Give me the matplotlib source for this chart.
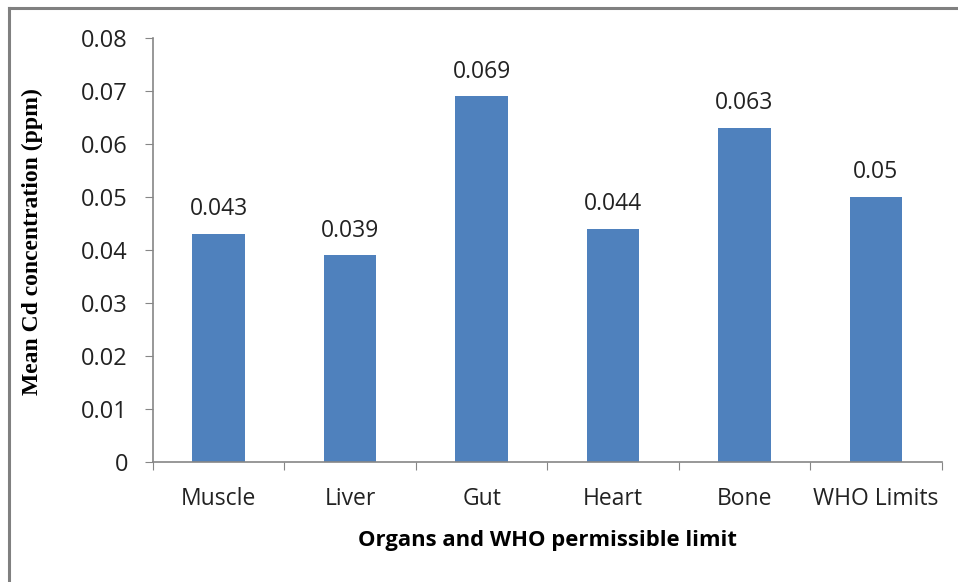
import numpy as np
import matplotlib
matplotlib.use('Agg')
import matplotlib.pyplot as plt
from matplotlib.lines import Line2D

# data
organs = ['Muscle', 'Liver', 'Gut', 'Heart', 'Bone', 'WHO Limits']
cd_ppm = [0.043, 0.039, 0.069, 0.044, 0.063, 0.05]
value_labels = ['0.043', '0.039', '0.069', '0.044', '0.063', '0.05']
y_ticks = [0, 0.01, 0.02, 0.03, 0.04, 0.05, 0.06, 0.07, 0.08]
y_ticklabels = ['0', '0.01', '0.02', '0.03', '0.04', '0.05', '0.06', '0.07', '0.08']

fig = plt.figure(figsize=(9.58, 5.82), dpi=100)
ax = fig.add_axes([0.1597, 0.2062, 0.8233, 0.7285])

x = np.arange(len(organs))
ax.bar(x, cd_ppm, width=0.4, color='#4F81BD', zorder=2)

for xi, v, lab in zip(x, cd_ppm, value_labels):
    ax.text(xi, v + 0.0024, lab, ha='center', va='bottom', fontsize=16.5,
            family='Open Sans', color='#222222')

ax.set_xlim(-0.5, len(organs) - 0.5)
ax.set_ylim(0, 0.08)
ax.set_yticks(y_ticks)
ax.set_yticklabels(y_ticklabels, family='Open Sans', fontsize=17, color='#222222')

# category labels between boundary ticks
ax.set_xticks(np.arange(-0.5, len(organs)), minor=False)
ax.set_xticklabels([])
ax.set_xticks(x, minor=True)
ax.set_xticklabels(organs, minor=True, family='Open Sans', fontsize=16.5, color='#222222')
ax.tick_params(axis='x', which='minor', length=0, pad=18)
ax.tick_params(axis='x', which='major', length=6, color='#868686')
ax.tick_params(axis='y', length=6, color='#868686', pad=12)

for s in ['top', 'right']:
    ax.spines[s].set_visible(False)
for s in ['left', 'bottom']:
    ax.spines[s].set_color('#868686')
    ax.spines[s].set_linewidth(1.2)

ax.set_ylabel('Mean Cd concentration (ppm)', family='Liberation Serif',
              fontweight='bold', fontsize=17)
ax.yaxis.set_label_coords(-0.14, 0.521)
ax.set_xlabel('Organs and WHO permissible limit', family='Open Sans',
              fontweight='bold', fontsize=15.8, labelpad=14)

# outer frame of the picture
fig.add_artist(Line2D([9/958, 1], [1 - 8/582, 1 - 8/582], color='#808080', lw=2.2))
fig.add_artist(Line2D([9/958, 9/958], [0, 1 - 8/582], color='#808080', lw=2.2))

fig.savefig('out.png', dpi=100)
